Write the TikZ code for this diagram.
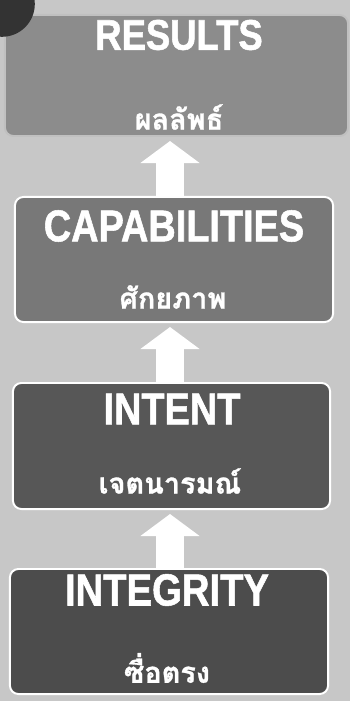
\documentclass[tikz,border=0pt]{standalone}
\usepackage{fontspec}
\newfontfamily\titlefont[FakeStretch=0.85, BoldFeatures={FakeBold=1.2}]{Liberation Sans}
\newfontfamily\thaifont[Script=Thai, BoldFeatures={FakeBold=1}]{Loma}
\usetikzlibrary{arrows.meta}
\definecolor{paper}{gray}{0.78}
\definecolor{resgray}{gray}{0.55}
\definecolor{capgray}{gray}{0.47}
\definecolor{intgray}{gray}{0.34}
\definecolor{itygray}{gray}{0.30}

\begin{document}
\begin{tikzpicture}[x=0.025cm, y=-0.025cm,
  box/.style={draw=white, line width=1.4pt, rounded corners=6pt, inner sep=0pt},
  title/.style={text=white, font=\titlefont\bfseries\fontsize{#1}{#1}\selectfont},
  thai/.style={text=white, font=\thaifont\bfseries\fontsize{20.5}{24}\selectfont},
  up/.style={draw=white, line width=0.7cm, shorten >=0.1cm, -{Triangle[width=1.45cm, length=0.55cm]}}]

\useasboundingbox (0,0) rectangle (350,701);
\fill[paper] (0,0) rectangle (350,701);

\node[box, draw=white!45!resgray, fill=resgray, minimum width=8.575cm, minimum height=3.025cm] (res) at (176.5,75.5) {};
\node[box, fill=capgray, minimum width=7.95cm, minimum height=3.125cm] (cap) at (174,259.5) {};
\node[box, fill=intgray, minimum width=7.925cm, minimum height=3.15cm] (int) at (171.5,446) {};
\node[box, fill=itygray, minimum width=7.95cm, minimum height=3.125cm] (ity) at (169,631.5) {};

\node[title=30.5] (resT) at (179,35) {RESULTS};
\node[thai] (resTh) at (179,117) {ผลลัพธ์};
\node[title=31.7] (capT) at (174,226) {CAPABILITIES};
\node[thai] (capTh) at (173,297) {ศักยภาพ};
\node[title=31.7] (intT) at (172,409) {INTENT};
\node[thai] (intTh) at (170,481) {เจตนารมณ์};
\node[title=32] (ityT) at (167,590) {INTEGRITY};
\node[thai] (ityTh) at (167,668) {ซื่อตรง};

\coordinate (ax) at (170,0);
\draw[up] (ax |- cap.north) -- (ax |- res.south);
\draw[up] (ax |- int.north) -- (ax |- cap.south);
\draw[up] (ax |- ity.north) -- (ax |- int.south);

\fill[black!80] (2,4) circle[radius=0.82cm];

\end{tikzpicture}
\end{document}
